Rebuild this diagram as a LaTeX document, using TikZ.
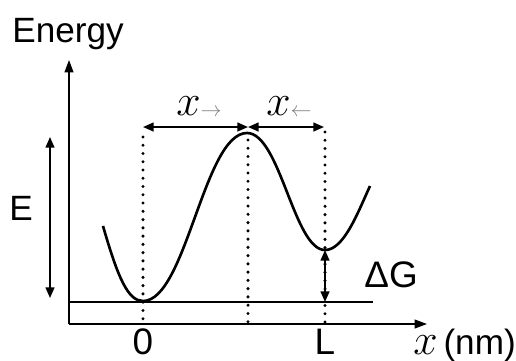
\documentclass[tikz,border=0pt]{standalone}
\usepackage{fontspec}
\setmainfont{Liberation Sans}
\usepackage{xcolor}
\usetikzlibrary{arrows.meta, positioning}
\tikzset{
  axis/.style={line width=0.9pt, -{Triangle[length=7pt, width=5pt]}},
  dimline/.style={line width=0.9pt, {Triangle[length=6pt, width=5pt]}-{Triangle[length=6pt, width=5pt]}},
  guide/.style={line width=1.9pt, dash pattern=on 0pt off 4.7pt, line cap=round},
  profile/.style={line width=1.5pt},
  lbl/.style={inner sep=0pt, font=\fontsize{21}{25}\selectfont},
}
\newcommand{\distlabel}[1]{{\fontsize{24.88}{28}\selectfont$x$}\raisebox{-1pt}{\fontsize{12}{12}\selectfont\color{black!50}$#1$}}

\begin{document}
\begin{tikzpicture}[x=0.02cm, y=-0.02cm]
    \useasboundingbox (0,0) rectangle (516,360);
    % axes
    \coordinate (origin) at (69,324);
    \coordinate (ytop) at (69,60);
    \coordinate (xend) at (427,324);
    \draw[axis] (origin) -- (ytop);
    \draw[axis] (origin) -- (xend);
    % reference level
    \coordinate (base0) at (69,302);
    \coordinate (base1) at (373,302);
    \draw[line width=0.8pt] (base0) -- (base1);
    % energy profile
    \coordinate (start) at (103,226);
    \coordinate (wellA) at (143,301);
    \coordinate (peak) at (247,133);
    \coordinate (wellB) at (325,250);
    \coordinate (finish) at (370,186);
    \draw[profile] (start) .. controls (118,278) and (128,301) .. (wellA)
      .. controls (186,301) and (204,133) .. (peak)
      .. controls (280,133) and (294,250) .. (wellB)
      .. controls (344,250) and (358,212) .. (finish);
    % dotted guides
    \coordinate (guideA) at (143,137);
    \coordinate (guideM) at (248,140);
    \coordinate (guideB) at (325,132);
    \draw[guide] (guideA) -- (guideA |- origin);
    \draw[guide] (guideM) -- (guideM |- origin);
    \draw[guide] (guideB) -- (guideB |- origin);
    % distances
    \coordinate (dimL) at (143,127);
    \coordinate (dimM) at (248,127);
    \coordinate (dimR) at (324,127);
    \draw[dimline] (dimL) -- (dimM);
    \draw[dimline] (dimM) -- (dimR);
    \node[lbl, anchor=base west] (xfwd) at (176,115) {\distlabel{\rightarrow}};
    \node[lbl, anchor=base west] (xbwd) at (266,115) {\distlabel{\leftarrow}};
    % energies
    \coordinate (etop) at (50,137);
    \coordinate (ebot) at (50,298);
    \draw[dimline] (etop) -- (ebot);
    \draw[dimline] (wellB) -- (wellB |- base0);
    \node[lbl, font=\fontsize{20}{24}\selectfont] (elabel) at (21,208) {E};
    \node[lbl, anchor=west] (dglabel) at (364,275) {ΔG};
    \node[lbl, font=\fontsize{20}{24}\selectfont, anchor=base west] (energy) at (12,42) {Energy};
    % axis labels
    \node[lbl, anchor=base] (zero) at (143,354) {0};
    \node[lbl, anchor=base] (length) at (325,354) {L};
    \node[lbl, font=\fontsize{20}{24}\selectfont, anchor=base west] (xunit) at (413,354)
      {{\fontsize{24.88}{28}\selectfont$x$}\,(nm)};
\end{tikzpicture}
\end{document}
